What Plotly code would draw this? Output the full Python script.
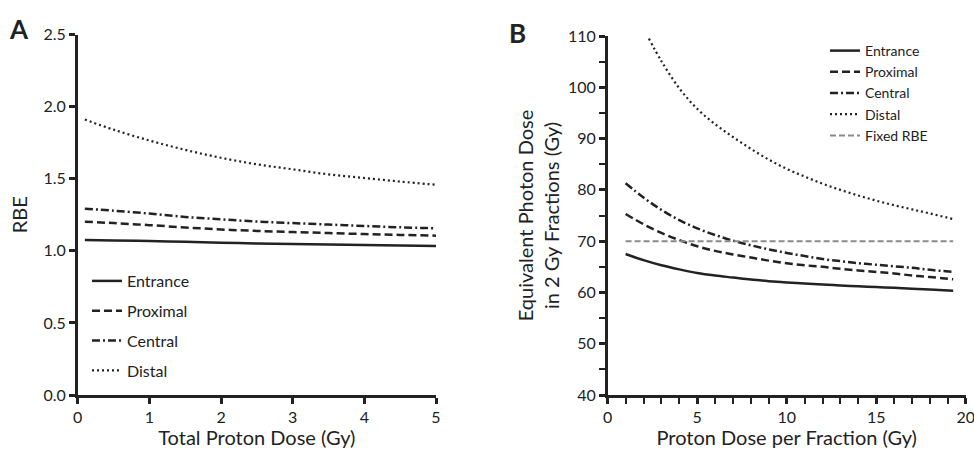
import plotly.graph_objects as go

# ---------------- Data ----------------
# Panel A: RBE vs total proton dose
dose_a = [0.1, 0.5, 1, 1.5, 2, 2.5, 3, 3.5, 4, 4.5, 5]
rbe_entrance = [1.075, 1.072, 1.068, 1.062, 1.056, 1.051, 1.047, 1.043, 1.040, 1.036, 1.033]
rbe_proximal = [1.202, 1.192, 1.178, 1.162, 1.148, 1.138, 1.130, 1.123, 1.116, 1.110, 1.105]
rbe_central = [1.292, 1.278, 1.258, 1.235, 1.218, 1.203, 1.192, 1.182, 1.172, 1.163, 1.156]
rbe_distal = [1.910, 1.840, 1.765, 1.700, 1.645, 1.600, 1.565, 1.530, 1.505, 1.480, 1.458]

# Panel B: equivalent photon dose vs proton dose per fraction
dose_b = [1, 2, 3, 4, 5, 6, 7, 8, 9, 10, 11, 12, 13, 14, 15, 16, 17, 18, 19.3]
eq_entrance = [67.5, 66.3, 65.3, 64.5, 63.8, 63.3, 62.9, 62.5, 62.2, 61.95, 61.75, 61.55, 61.35, 61.2, 61.05, 60.9, 60.7, 60.55, 60.35]
eq_proximal = [75.3, 73.3, 71.6, 70.2, 69.0, 68.1, 67.4, 66.8, 66.2, 65.7, 65.3, 65.0, 64.6, 64.3, 64.0, 63.7, 63.3, 63.0, 62.55]
eq_central = [81.3, 78.5, 76.1, 74.1, 72.5, 71.2, 70.1, 69.2, 68.4, 67.7, 67.1, 66.5, 66.1, 65.7, 65.4, 65.1, 64.8, 64.4, 64.0]
dose_b_distal = [2.3, 3, 4, 5, 6, 7, 8, 9, 10, 11, 12, 13, 14, 15, 16, 17, 18, 19.3]
eq_distal = [109.5, 105.1, 99.8, 95.8, 92.8, 90.3, 88.0, 85.9, 84.1, 82.6, 81.2, 80.0, 78.9, 77.9, 77.0, 76.2, 75.4, 74.3]
fixed_x = [1, 19.3]
fixed_rbe = [70, 70]

series_names = ["Entrance", "Proximal", "Central", "Distal"]
tick_a_y = [0.0, 0.5, 1.0, 1.5, 2.0, 2.5]
tick_a_y_text = ["0.0", "0.5", "1.0", "1.5", "2.0", "2.5"]

# ---------------- Styles ----------------
FONT = "Lato"
INK = "#222222"
dashes = ["solid", "8px,4px", "8px,3px,2px,3px", "2px,3px"]
widths = [2.5, 2.5, 2.5, 2.2]

fig = go.Figure()

for i, (name, ys) in enumerate(zip(series_names, [rbe_entrance, rbe_proximal, rbe_central, rbe_distal])):
    fig.add_trace(go.Scatter(
        x=dose_a, y=ys, mode="lines", name=name, xaxis="x", yaxis="y",
        line=dict(color=INK, width=widths[i], dash=dashes[i], shape="spline"),
        legend="legend", legendgroup="a" + name,
    ))

b_series = [(dose_b, eq_entrance), (dose_b, eq_proximal), (dose_b, eq_central), (dose_b_distal, eq_distal)]
for i, (name, (xs, ys)) in enumerate(zip(series_names, b_series)):
    fig.add_trace(go.Scatter(
        x=xs, y=ys, mode="lines", name=name, xaxis="x2", yaxis="y2",
        line=dict(color=INK, width=widths[i], dash=dashes[i], shape="spline"),
        legend="legend2",
    ))
fig.add_trace(go.Scatter(
    x=fixed_x, y=fixed_rbe, mode="lines", name="Fixed RBE", xaxis="x2", yaxis="y2",
    line=dict(color="#8a8a8a", width=2, dash="6px,3px"), legend="legend2",
))

W, H = 974, 449
def px_x(p):
    return p / W
def px_y(p):
    return 1 - p / H

axis_common = dict(
    showline=True, linecolor=INK, linewidth=2.5, ticks="outside", ticklen=6,
    tickwidth=2.5, tickcolor=INK, showgrid=False, zeroline=False,
    tickfont=dict(family=FONT, size=16, color=INK), automargin=False,
    ticklabeloverflow="allow",
    title_font=dict(family=FONT, size=20, color=INK),
)

fig.update_layout(
    width=W, height=H, margin=dict(l=0, r=0, t=0, b=0),
    paper_bgcolor="white", plot_bgcolor="white",
    font=dict(family=FONT, color=INK),
    xaxis=dict(domain=[px_x(77.7), px_x(436)], range=[0, 5], anchor="y",
               tickvals=[0, 1, 2, 3, 4, 5],
               title=dict(text="Total Proton Dose (Gy)", standoff=3), **axis_common),
    yaxis=dict(domain=[px_y(395), px_y(34.5)], range=[0, 2.5], anchor="x",
               tickvals=tick_a_y, ticktext=tick_a_y_text,
               title=dict(text="RBE", standoff=11), **axis_common),
    xaxis2=dict(domain=[px_x(607.7), px_x(965.7)], range=[0, 20], anchor="y2",
                tickvals=[0, 5, 10, 15, 20],
                minor=dict(dtick=1, ticks="outside", ticklen=6, tickwidth=2, tickcolor=INK),
                title=dict(text="Proton Dose per Fraction (Gy)", standoff=3), **axis_common),
    yaxis2=dict(domain=[px_y(395), px_y(36)], range=[40, 110], anchor="x2",
                dtick=10, minor=dict(dtick=5, ticks="outside", ticklen=6, tickwidth=2, tickcolor=INK),
                title=dict(text="Equivalent Photon Dose<br>in 2 Gy Fractions (Gy)", standoff=3), **axis_common),
    legend=dict(x=px_x(87), y=px_y(264), xanchor="left", yanchor="top",
                font=dict(family=FONT, size=16, color=INK), bgcolor="rgba(0,0,0,0)",
                tracegroupgap=6, itemwidth=30),
    legend2=dict(x=px_x(825), y=px_y(35), xanchor="left", yanchor="top",
                 font=dict(family=FONT, size=14, color=INK), bgcolor="rgba(0,0,0,0)",
                 itemwidth=30),
    annotations=[
        dict(text="<b>A</b>", x=px_x(18.5), y=px_y(29), xref="paper", yref="paper",
             xanchor="center", yanchor="middle",
             showarrow=False, font=dict(family=FONT, size=26, color=INK)),
        dict(text="<b>B</b>", x=px_x(517.5), y=px_y(32.5), xref="paper", yref="paper",
             xanchor="center", yanchor="middle",
             showarrow=False, font=dict(family=FONT, size=26, color=INK)),
    ],
)

fig.write_html("out.html", post_script="document.body.style.margin='0';",
               config={"displayModeBar": False})
